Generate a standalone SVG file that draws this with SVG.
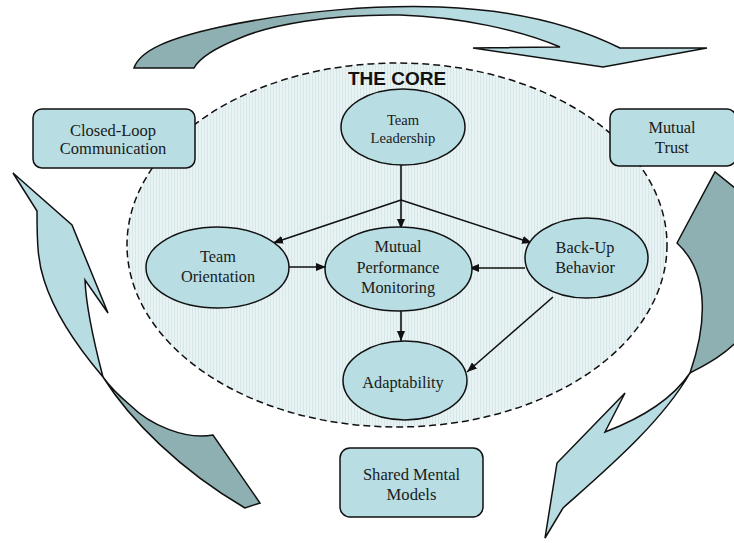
<svg xmlns="http://www.w3.org/2000/svg" width="734" height="543" viewBox="0 0 734 543">
<defs>
<style>
.node{fill:#b8dde2;stroke:#111;stroke-width:1.5}
.lbl{font-family:'Liberation Serif','Times New Roman',serif;font-size:16.3px;fill:#1a1a1a;text-anchor:middle}
.con{stroke:#111;stroke-width:1.6;fill:none}
.arr{stroke:#111;stroke-width:1.5;stroke-linejoin:miter}
.light{fill:#b7dce1}
.dark{fill:#8fb0b2}
</style>
<pattern id="hatch" width="3" height="3" patternUnits="userSpaceOnUse">
<rect width="3" height="3" fill="#eaf3f4"/>
<rect width="1" height="3" fill="#d6e7e9"/>
</pattern>
<linearGradient id="topg" gradientUnits="userSpaceOnUse" x1="290" y1="0" x2="440" y2="0">
<stop offset="0" stop-color="#8fb0b2"/>
<stop offset="1" stop-color="#b7dce1"/>
</linearGradient>
<marker id="ah" markerWidth="10" markerHeight="8" refX="10" refY="4" orient="auto" markerUnits="userSpaceOnUse">
<path d="M0,0 L10,4 L0,8 Z" fill="#111"/>
</marker>
</defs>
<rect width="734" height="543" fill="#ffffff"/>

<g id="cycle-arrows">
<path class="arr" fill="url(#topg)" d="M134,68 C140,50 170,38 220,27 C300,10 380,5 440,7 C520,10 580,28 620,48 L707,48 L603,67 L473,48 L560,47 C520,30 460,17 400,15 C330,14 270,25 240,38 C215,48 200,57 194,68 Z"/>
<path class="arr dark" d="M103,377 C130,420 180,470 245,508 L260,503 L213,435 C185,440 150,425 130,405 C118,395 110,387 103,377 Z"/>
<path class="arr light" d="M103,377 C80,350 55,315 44,280 C38,262 37,245 37,211 L13,173 L72,225 L108,313 L85,280 C86,305 92,335 103,377 Z"/>
<path class="arr dark" d="M677,243 L715,172 L750,200 L765,280 L740,338 C725,355 705,365 690,373 C705,330 712,275 677,243 Z"/>
<path class="arr light" d="M690,373 C675,395 650,415 605,432 L625,393 L557,463 L545,538 L563,508 C600,475 660,425 690,373 Z"/>
</g>

<g id="core">
<ellipse cx="397" cy="245" rx="270" ry="182" fill="url(#hatch)" stroke="#111" stroke-width="1.5" stroke-dasharray="7,4"/>
<text x="397" y="85" font-family="'Liberation Sans',Arial,sans-serif" font-size="19" font-weight="bold" fill="#111" text-anchor="middle">THE CORE</text>
</g>

<g id="closed-loop">
<rect class="node" x="33" y="109" width="162" height="59" rx="9"/>
<text class="lbl" x="113" y="136" style="font-size:16.5px">Closed-Loop</text>
<text class="lbl" x="113" y="154" style="font-size:16.5px">Communication</text>
</g>
<g id="mutual-trust">
<rect class="node" x="610" y="109" width="126" height="57" rx="9"/>
<text class="lbl" x="672" y="133">Mutual</text>
<text class="lbl" x="672" y="153">Trust</text>
</g>
<g id="shared-mental-models">
<rect class="node" x="340" y="448" width="143" height="69" rx="10"/>
<text class="lbl" x="411.5" y="480" style="font-size:16.6px">Shared Mental</text>
<text class="lbl" x="411.5" y="500" style="font-size:16.6px">Models</text>
</g>

<g id="connectors">
<path class="con" d="M401,165 L401,200"/>
<path class="con" d="M401,200 L273,243" marker-end="url(#ah)"/>
<path class="con" d="M401,200 L401,229" marker-end="url(#ah)"/>
<path class="con" d="M401,200 L532,243" marker-end="url(#ah)"/>
<path class="con" d="M287,267 L326,267" marker-end="url(#ah)"/>
<path class="con" d="M525,268 L469,268" marker-end="url(#ah)"/>
<path class="con" d="M401,311 L401,341" marker-end="url(#ah)"/>
<path class="con" d="M553,297 L467,372" marker-end="url(#ah)"/>
</g>

<g id="team-leadership">
<ellipse class="node" cx="403" cy="127" rx="62" ry="38"/>
<text class="lbl" x="403" y="125" style="font-size:14.6px">Team</text>
<text class="lbl" x="403" y="143" style="font-size:14.6px">Leadership</text>
</g>
<g id="team-orientation">
<ellipse class="node" cx="217.5" cy="267.5" rx="71.5" ry="40.5"/>
<text class="lbl" x="218" y="262">Team</text>
<text class="lbl" x="218" y="282">Orientation</text>
</g>
<g id="mutual-performance-monitoring">
<ellipse class="node" cx="398.5" cy="269" rx="73.5" ry="42"/>
<text class="lbl" x="398" y="252">Mutual</text>
<text class="lbl" x="398" y="273">Performance</text>
<text class="lbl" x="398" y="293">Monitoring</text>
</g>
<g id="back-up-behavior">
<ellipse class="node" cx="586.5" cy="258" rx="61.5" ry="40"/>
<text class="lbl" x="585" y="253">Back-Up</text>
<text class="lbl" x="585" y="273">Behavior</text>
</g>
<g id="adaptability">
<ellipse class="node" cx="405" cy="380.5" rx="62" ry="39.5"/>
<text class="lbl" x="403" y="388">Adaptability</text>
</g>
</svg>
